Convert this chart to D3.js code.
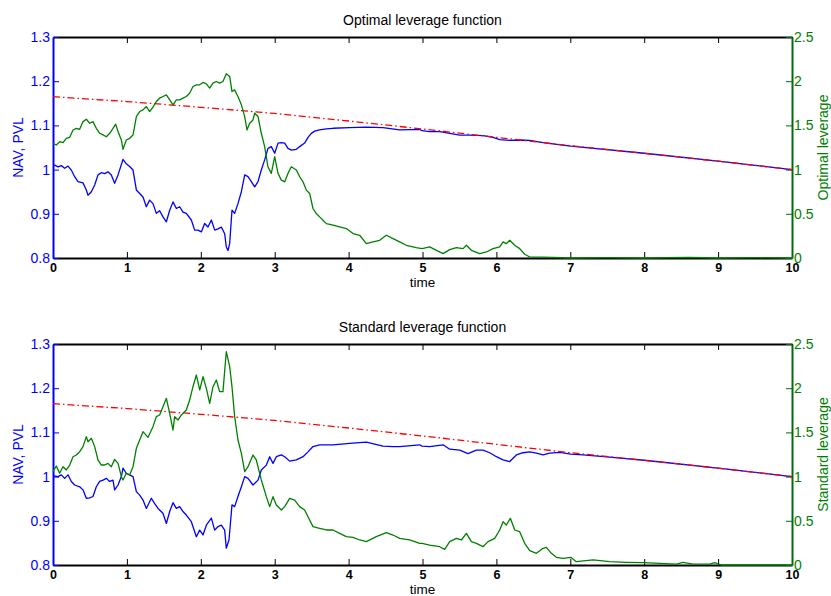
<!DOCTYPE html>
<html>
<head>
<meta charset="utf-8">
<script src="https://cdn.jsdelivr.net/npm/d3@7"></script>
<style>
  body { margin: 0; background: #fff; }
  svg { display: block; font-family: "Liberation Sans", Arial, Helvetica, sans-serif; }
</style>
</head>
<body>
<svg id="chart" width="831" height="596"></svg>
<script>
// ---- tick values ----
const timeTicks = [0, 1, 2, 3, 4, 5, 6, 7, 8, 9, 10];
const navTicks = [0.8, 0.9, 1, 1.1, 1.2, 1.3];
const levTicks = [0, 0.5, 1, 1.5, 2, 2.5];

// ---- present value of liabilities (same in both panels) ----
const pvlTime  = [0, 1, 2, 3, 4, 5, 6, 7, 8, 9, 10];
const pvlValue = [1.165, 1.154, 1.141, 1.127, 1.110, 1.092, 1.073, 1.054, 1.037, 1.019, 1.0];

// ---- optimal leverage panel: NAV path [time, value] ----
const navOptimal = [
  [0,1.010],[0.023,1.010],[0.068,1.006],[0.113,1.009],[0.158,1.003],[0.203,1.008],[0.248,0.999],
  [0.293,0.984],[0.338,0.973],[0.406,0.970],[0.451,0.954],[0.474,0.942],[0.519,0.950],[0.564,0.965],
  [0.609,0.988],[0.654,0.993],[0.699,0.991],[0.744,0.995],[0.789,0.988],[0.834,0.969],[0.88,0.988],
  [0.947,1.023],[0.992,1.013],[1.037,1.007],[1.083,0.999],[1.128,0.954],[1.173,0.946],[1.218,0.938],
  [1.263,0.916],[1.308,0.931],[1.353,0.923],[1.398,0.901],[1.443,0.907],[1.488,0.893],[1.534,0.882],
  [1.579,0.908],[1.624,0.927],[1.669,0.912],[1.714,0.916],[1.759,0.904],[1.804,0.901],[1.872,0.886],
  [1.917,0.863],[1.962,0.863],[2.007,0.859],[2.052,0.878],[2.097,0.870],[2.143,0.886],[2.188,0.863],
  [2.233,0.866],[2.278,0.870],[2.323,0.855],[2.345,0.825],[2.368,0.817],[2.391,0.833],[2.422,0.908],
  [2.458,0.901],[2.503,0.923],[2.549,0.950],[2.594,0.988],[2.639,0.984],[2.684,0.973],[2.729,0.961],
  [2.774,0.973],[2.819,0.999],[2.864,1.022],[2.909,1.048],[2.954,1.052],[3.0,1.037],[3.045,1.060],
  [3.09,1.061],[3.135,1.060],[3.18,1.048],[3.225,1.044],[3.293,1.046],[3.338,1.052],[3.405,1.060],
  [3.451,1.073],[3.496,1.082],[3.541,1.087],[3.608,1.090],[3.699,1.092],[3.789,1.0935],[4.014,1.095],
  [4.24,1.096],[4.466,1.095],[4.691,1.090],[4.962,1.091],[4.994,1.088],[5.098,1.086],[5.233,1.086],
  [5.368,1.082],[5.504,1.078],[5.639,1.078],[5.819,1.077],[5.955,1.073],[6.045,1.068],[6.18,1.066],
  [6.315,1.067],[6.451,1.066],[6.631,1.061],[7.006,1.053],[8.0,1.037],[9.0,1.019],[10,1.0]
];

// ---- optimal leverage panel: leverage path [time, leverage] ----
const levOptimal = [
  [0,1.297],[0.045,1.278],[0.09,1.316],[0.135,1.305],[0.18,1.354],[0.226,1.365],[0.271,1.448],
  [0.316,1.467],[0.361,1.456],[0.406,1.543],[0.451,1.570],[0.496,1.524],[0.541,1.543],[0.586,1.467],
  [0.631,1.411],[0.677,1.392],[0.722,1.372],[0.767,1.411],[0.812,1.467],[0.848,1.515],[0.88,1.430],
  [0.925,1.335],[0.947,1.229],[0.992,1.335],[1.037,1.354],[1.083,1.392],[1.128,1.600],[1.173,1.657],
  [1.218,1.676],[1.263,1.713],[1.308,1.657],[1.353,1.706],[1.398,1.770],[1.443,1.808],[1.488,1.827],
  [1.534,1.846],[1.579,1.789],[1.624,1.733],[1.669,1.789],[1.714,1.789],[1.759,1.808],[1.804,1.827],
  [1.849,1.864],[1.894,1.940],[1.94,1.959],[1.985,1.959],[2.03,1.986],[2.075,1.970],[2.12,1.921],
  [2.165,1.978],[2.21,1.997],[2.255,1.978],[2.3,1.997],[2.345,2.084],[2.391,2.054],[2.422,1.883],
  [2.458,1.902],[2.503,1.827],[2.549,1.733],[2.594,1.600],[2.625,1.448],[2.661,1.524],[2.706,1.562],
  [2.729,1.638],[2.774,1.600],[2.819,1.411],[2.864,1.259],[2.909,1.032],[2.954,0.957],[3.0,1.146],
  [3.045,0.957],[3.09,0.881],[3.135,0.862],[3.18,0.957],[3.225,1.032],[3.293,0.995],[3.338,0.919],
  [3.383,0.862],[3.428,0.768],[3.473,0.730],[3.518,0.560],[3.563,0.503],[3.608,0.465],[3.654,0.427],
  [3.699,0.389],[3.789,0.371],[3.879,0.352],[3.969,0.333],[4.06,0.276],[4.15,0.257],[4.24,0.163],
  [4.33,0.182],[4.42,0.200],[4.511,0.257],[4.601,0.219],[4.691,0.182],[4.781,0.144],[4.915,0.117],
  [4.994,0.106],[5.098,0.125],[5.188,0.087],[5.278,0.049],[5.368,0.095],[5.458,0.117],[5.549,0.106],
  [5.594,0.144],[5.661,0.087],[5.774,0.049],[5.864,0.068],[5.955,0.106],[6.045,0.125],[6.09,0.182],
  [6.135,0.163],[6.18,0.200],[6.248,0.144],[6.315,0.106],[6.383,0.042],[6.451,0.011],[6.631,0.011],
  [7.0,0.0],[7.5,0.004],[8.0,0.0],[8.6,0.006],[9.0,0.0],[9.5,0.004],[10,0.0]
];

// ---- standard leverage panel: NAV path ----
const navStandard = [
  [0,1.002],[0.068,1.0],[0.113,1.004],[0.158,0.996],[0.203,1.004],[0.248,0.989],[0.293,0.981],
  [0.361,0.977],[0.406,0.970],[0.451,0.951],[0.496,0.952],[0.541,0.955],[0.586,0.977],[0.631,0.989],
  [0.677,0.992],[0.722,0.996],[0.767,0.989],[0.812,0.992],[0.834,0.970],[0.88,0.981],[0.925,1.0],
  [0.947,1.019],[0.992,1.007],[1.037,1.004],[1.083,1.0],[1.128,0.966],[1.173,0.958],[1.218,0.947],
  [1.263,0.928],[1.331,0.951],[1.376,0.939],[1.421,0.928],[1.488,0.917],[1.534,0.894],[1.579,0.921],
  [1.624,0.941],[1.669,0.928],[1.714,0.932],[1.759,0.921],[1.804,0.913],[1.872,0.898],[1.94,0.864],
  [1.985,0.879],[2.03,0.868],[2.075,0.890],[2.143,0.906],[2.188,0.879],[2.233,0.887],[2.278,0.890],
  [2.323,0.879],[2.345,0.838],[2.382,0.857],[2.422,0.936],[2.458,0.932],[2.503,0.955],[2.549,0.977],
  [2.594,1.0],[2.639,0.996],[2.706,0.981],[2.774,0.992],[2.819,1.015],[2.887,1.026],[2.932,1.045],
  [2.977,1.030],[3.022,1.045],[3.09,1.049],[3.135,1.045],[3.203,1.035],[3.293,1.038],[3.383,1.045],
  [3.451,1.056],[3.518,1.068],[3.608,1.072],[3.789,1.072],[4.014,1.075],[4.24,1.078],[4.466,1.069],
  [4.601,1.068],[4.691,1.068],[4.962,1.072],[4.994,1.069],[5.098,1.068],[5.278,1.072],[5.368,1.062],
  [5.504,1.060],[5.616,1.052],[5.729,1.060],[5.819,1.060],[5.91,1.054],[6.0,1.045],[6.09,1.038],
  [6.18,1.034],[6.27,1.049],[6.36,1.054],[6.451,1.056],[6.541,1.053],[6.631,1.049],[6.721,1.053],
  [6.857,1.055],[7.006,1.051],[7.172,1.049],[7.533,1.044],[8.0,1.037],[9.0,1.019],[10,1.0]
];

// ---- standard leverage panel: leverage path ----
const levStandard = [
  [0,1.056],[0.045,1.120],[0.09,1.037],[0.135,1.112],[0.18,1.075],[0.226,1.131],[0.271,1.225],
  [0.316,1.244],[0.361,1.282],[0.406,1.339],[0.451,1.452],[0.474,1.395],[0.519,1.433],[0.564,1.339],
  [0.609,1.188],[0.654,1.131],[0.699,1.131],[0.744,1.150],[0.789,1.112],[0.834,1.195],[0.88,1.150],
  [0.925,0.999],[0.947,0.962],[0.992,1.037],[1.037,1.018],[1.083,1.112],[1.128,1.320],[1.173,1.414],
  [1.218,1.508],[1.286,1.444],[1.353,1.565],[1.398,1.678],[1.443,1.697],[1.488,1.791],[1.534,1.885],
  [1.579,1.716],[1.624,1.527],[1.646,1.678],[1.691,1.640],[1.737,1.697],[1.804,1.753],[1.849,1.866],
  [1.894,2.017],[1.94,2.149],[1.985,1.980],[2.03,2.130],[2.075,1.998],[2.12,1.829],[2.165,2.017],
  [2.21,2.093],[2.255,1.961],[2.3,1.961],[2.345,2.413],[2.391,2.243],[2.422,2.017],[2.458,1.678],
  [2.503,1.414],[2.549,1.263],[2.594,1.056],[2.639,1.112],[2.706,1.244],[2.751,1.188],[2.819,0.962],
  [2.887,0.773],[2.932,0.660],[2.977,0.773],[3.022,0.679],[3.09,0.622],[3.135,0.660],[3.203,0.754],
  [3.27,0.735],[3.338,0.660],[3.405,0.622],[3.473,0.509],[3.518,0.434],[3.608,0.415],[3.699,0.396],
  [3.789,0.396],[3.879,0.358],[3.969,0.321],[4.06,0.313],[4.15,0.283],[4.24,0.264],[4.375,0.321],
  [4.511,0.366],[4.601,0.339],[4.691,0.302],[4.826,0.283],[4.962,0.245],[4.994,0.245],[5.098,0.226],
  [5.233,0.207],[5.3,0.177],[5.368,0.264],[5.458,0.302],[5.526,0.283],[5.594,0.358],[5.661,0.264],
  [5.729,0.245],[5.819,0.207],[5.887,0.264],[5.977,0.302],[6.045,0.396],[6.09,0.490],[6.135,0.452],
  [6.189,0.528],[6.248,0.396],[6.315,0.377],[6.383,0.245],[6.451,0.162],[6.541,0.132],[6.631,0.189],
  [6.676,0.200],[6.744,0.132],[6.812,0.087],[6.902,0.075],[7.006,0.087],[7.082,0.038],[7.308,0.057],
  [7.533,0.038],[7.759,0.030],[7.985,0.026],[8.21,0.019],[8.436,0.011],[8.526,0.030],[8.661,0.011],
  [8.887,0.011],[8.954,0.026],[9.044,0.0],[10,0.0]
];

const panelTitles = ["Optimal leverage function", "Standard leverage function"];
const leverageLabels = ["Optimal leverage", "Standard leverage"];
const navLabel = "NAV, PVL";
const timeLabel = "time";

// ---- layout & style ----
const BLUE = "#0000ff", GREEN = "#008000", GREEN_AXIS = "#006a10", RED = "#ff0000";
const left = 53, right = 792, plotH = 221;
const panelTops = [37, 344];

const svg = d3.select("#chart");
const x = d3.scaleLinear().domain([0, 10]).range([left, right]);
const yNav = d3.scaleLinear().domain([0.8, 1.3]).range([plotH, 0]);
const yLev = d3.scaleLinear().domain([0, 2.5]).range([plotH, 0]);

const pvlSeries = pvlTime.map((t, i) => [t, pvlValue[i]]);

const panels = [
  { title: panelTitles[0], levLabel: leverageLabels[0], nav: navOptimal, lev: levOptimal },
  { title: panelTitles[1], levLabel: leverageLabels[1], nav: navStandard, lev: levStandard }
];

function styleAxis(g, color, domainWidth) {
  g.attr("font-family", null).attr("font-size", null);
  g.select(".domain").attr("stroke", color).attr("stroke-width", domainWidth);
  g.selectAll(".tick line").attr("stroke", color).attr("stroke-width", 1);
  g.selectAll(".tick text").attr("fill", color);
}

panels.forEach((p, i) => {
  const top = panelTops[i];
  const g = svg.append("g").attr("transform", `translate(0,${top})`);

  // top frame edge
  g.append("g")
    .call(d3.axisTop(x).tickValues(timeTicks).tickSize(-6).tickSizeOuter(0).tickFormat(""))
    .call(a => styleAxis(a, "#000", 2));

  // time axis
  g.append("g").attr("transform", `translate(0,${plotH})`)
    .call(d3.axisBottom(x).tickValues(timeTicks).tickSize(-6).tickSizeOuter(0).tickPadding(5)
      .tickFormat(d3.format("d")))
    .call(a => styleAxis(a, "#000", 2))
    .call(a => a.selectAll(".tick text").attr("font-size", 12.5).attr("font-weight", "bold"));

  // NAV axis (left)
  g.append("g").attr("transform", `translate(${left},0)`)
    .call(d3.axisLeft(yNav).tickValues(navTicks).tickSize(-6).tickSizeOuter(0).tickPadding(3)
      .tickFormat(d => String(d)))
    .call(a => styleAxis(a, BLUE, 2))
    .call(a => a.selectAll(".tick text").attr("font-size", 14));

  // leverage axis (right)
  g.append("g").attr("transform", `translate(${right},0)`)
    .call(d3.axisRight(yLev).tickValues(levTicks).tickSize(-6).tickSizeOuter(0).tickPadding(2)
      .tickFormat(d => String(d)))
    .call(a => styleAxis(a, GREEN_AXIS, 2))
    .call(a => a.selectAll(".tick text").attr("fill", GREEN).attr("font-size", 14));

  // curves
  const navLine = d3.line().x(d => x(d[0])).y(d => yNav(d[1]));
  const levLine = d3.line().x(d => x(d[0])).y(d => yLev(d[1]));

  g.append("path").datum(p.nav)
    .attr("d", navLine).attr("fill", "none").attr("stroke", BLUE)
    .attr("stroke-width", 1.3).attr("stroke-linejoin", "round");

  g.append("path").datum(pvlSeries)
    .attr("d", navLine).attr("fill", "none").attr("stroke", RED)
    .attr("stroke-width", 1.3).attr("stroke-dasharray", "7,3,1.5,3");

  g.append("path").datum(p.lev)
    .attr("d", levLine).attr("fill", "none").attr("stroke", GREEN)
    .attr("stroke-width", 1.3).attr("stroke-linejoin", "round");

  // titles and labels
  g.append("text")
    .attr("x", (left + right) / 2).attr("y", -12)
    .attr("text-anchor", "middle").attr("font-size", 14).attr("fill", "#000")
    .text(p.title);

  g.append("text")
    .attr("x", (left + right) / 2).attr("y", plotH + 28.5)
    .attr("text-anchor", "middle").attr("font-size", 13.5).attr("fill", "#000")
    .text(timeLabel);

  g.append("text")
    .attr("transform", `translate(23,${plotH / 2}) rotate(-90)`)
    .attr("text-anchor", "middle").attr("font-size", 14).attr("fill", BLUE)
    .text(navLabel);

  g.append("text")
    .attr("transform", `translate(828,${plotH / 2}) rotate(-90)`)
    .attr("text-anchor", "middle").attr("font-size", 14).attr("fill", GREEN)
    .text(p.levLabel);
});
</script>
</body>
</html>
